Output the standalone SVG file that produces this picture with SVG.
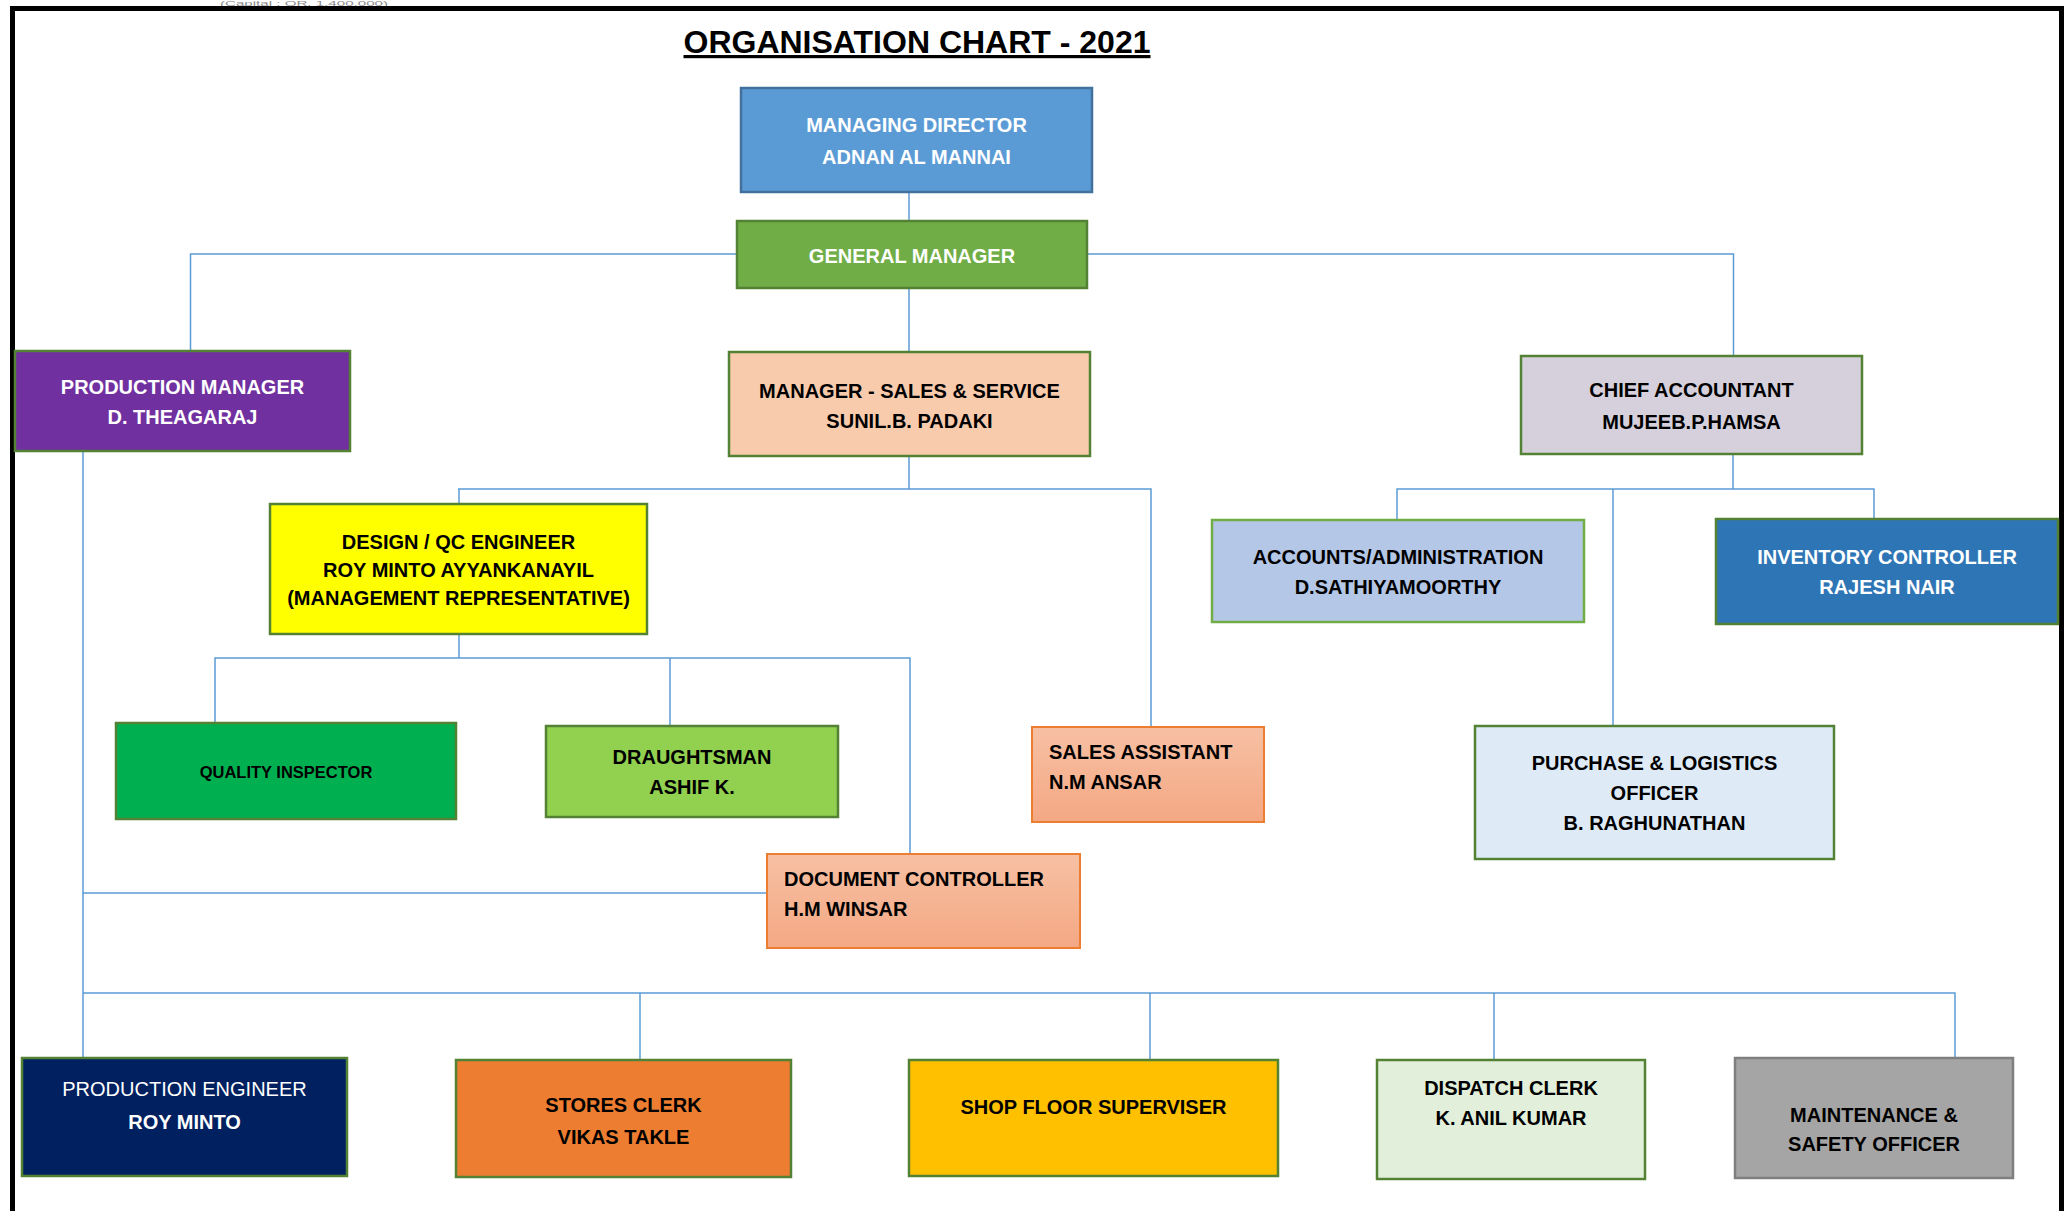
<svg xmlns="http://www.w3.org/2000/svg" width="2068" height="1211" viewBox="0 0 2068 1211">
<style>
  text { font-family: "Liberation Sans", Arial, sans-serif; font-weight: bold; font-size: 20px; }
  .c { text-anchor: middle; }
  .w { fill: #FFFFFF; }
  .k { fill: #000000; }
  .box { stroke: #548235; stroke-width: 2.5; }
  .conn { fill: none; stroke: #5B9BD5; stroke-width: 1.5; }
</style>
<defs>
  <linearGradient id="peach" x1="0" y1="0" x2="0" y2="1">
    <stop offset="0" stop-color="#F7C0A3"/>
    <stop offset="1" stop-color="#F4A884"/>
  </linearGradient>
</defs>
<rect width="2068" height="1211" fill="#FFFFFF"/>
<text x="220" y="5.5" textLength="168" lengthAdjust="spacingAndGlyphs" style="font-size:6.5px;font-weight:normal;fill:#8C8C8C">(Capital : QR. 1,400,000)</text>
<path d="M12.5,1215 V8.5 H2061.5 V1215" fill="none" stroke="#000000" stroke-width="5"/>
<text x="917" y="53" class="c k" style="font-size:32px;text-decoration:underline">ORGANISATION CHART - 2021</text>

<g id="connectors" class="conn">
  <path d="M909,192 V221"/>
  <path d="M737,254 H190.5 V351"/>
  <path d="M1087,254 H1733.5 V356"/>
  <path d="M909,288 V352"/>
  <path d="M909,456 V489"/>
  <path d="M458,489 H1151 V727"/>
  <path d="M459,489 V504"/>
  <path d="M459,634 V658"/>
  <path d="M215,723 V658 H910 V854"/>
  <path d="M670,658 V726"/>
  <path d="M83,451 V1058"/>
  <path d="M83,893 H767"/>
  <path d="M83,993 H1955 V1058"/>
  <path d="M640,993 V1060"/>
  <path d="M1150,993 V1060"/>
  <path d="M1494,993 V1060"/>
  <path d="M1733,454 V489"/>
  <path d="M1397,520 V489 H1874 V519"/>
  <path d="M1613,489 V726"/>
</g>

<g id="managing-director">
  <rect x="741" y="88" width="351" height="104" fill="#5B9BD5" stroke="#41719C" stroke-width="2.5"/>
  <text x="916.5" y="132" class="c w">MANAGING DIRECTOR</text>
  <text x="916.5" y="164" class="c w">ADNAN AL MANNAI</text>
</g>
<g id="general-manager">
  <rect x="737" y="221" width="350" height="67" class="box" fill="#70AD47"/>
  <text x="912" y="263" class="c w">GENERAL MANAGER</text>
</g>
<g id="production-manager">
  <rect x="15" y="351" width="335" height="100" class="box" fill="#7030A0"/>
  <text x="182.5" y="394" class="c w">PRODUCTION MANAGER</text>
  <text x="182.5" y="424" class="c w">D. THEAGARAJ</text>
</g>
<g id="manager-sales-service">
  <rect x="729" y="352" width="361" height="104" class="box" fill="#F8CBAD"/>
  <text x="909.5" y="398" class="c k">MANAGER - SALES &amp; SERVICE</text>
  <text x="909.5" y="428" class="c k">SUNIL.B. PADAKI</text>
</g>
<g id="chief-accountant">
  <rect x="1521" y="356" width="341" height="98" class="box" fill="#D5D0DC"/>
  <text x="1691.5" y="397" class="c k">CHIEF ACCOUNTANT</text>
  <text x="1691.5" y="429" class="c k">MUJEEB.P.HAMSA</text>
</g>
<g id="design-qc-engineer">
  <rect x="270" y="504" width="377" height="130" class="box" fill="#FFFF00"/>
  <text x="458.5" y="549" class="c k">DESIGN / QC ENGINEER</text>
  <text x="458.5" y="577" class="c k">ROY MINTO AYYANKANAYIL</text>
  <text x="458.5" y="605" class="c k">(MANAGEMENT REPRESENTATIVE)</text>
</g>
<g id="accounts-administration">
  <rect x="1212" y="520" width="372" height="102" fill="#B4C7E7" stroke="#70AD47" stroke-width="2.5"/>
  <text x="1398" y="564" class="c k">ACCOUNTS/ADMINISTRATION</text>
  <text x="1398" y="594" class="c k">D.SATHIYAMOORTHY</text>
</g>
<g id="inventory-controller">
  <rect x="1716" y="519" width="342" height="105" class="box" fill="#2E75B6"/>
  <text x="1887" y="564" class="c w">INVENTORY CONTROLLER</text>
  <text x="1887" y="594" class="c w">RAJESH NAIR</text>
</g>
<g id="quality-inspector">
  <rect x="116" y="723" width="340" height="96" class="box" fill="#00B050"/>
  <text x="286" y="778" class="c k" style="font-size:16.5px">QUALITY INSPECTOR</text>
</g>
<g id="draughtsman">
  <rect x="546" y="726" width="292" height="91" class="box" fill="#92D050"/>
  <text x="692" y="764" class="c k">DRAUGHTSMAN</text>
  <text x="692" y="794" class="c k">ASHIF K.</text>
</g>
<g id="sales-assistant">
  <rect x="1032" y="727" width="232" height="95" fill="url(#peach)" stroke="#ED7D31" stroke-width="2"/>
  <text x="1049" y="759" class="k">SALES ASSISTANT</text>
  <text x="1049" y="789" class="k">N.M ANSAR</text>
</g>
<g id="purchase-logistics">
  <rect x="1475" y="726" width="359" height="133" class="box" fill="#DEEBF7"/>
  <text x="1654.5" y="770" class="c k">PURCHASE &amp; LOGISTICS</text>
  <text x="1654.5" y="800" class="c k">OFFICER</text>
  <text x="1654.5" y="830" class="c k">B. RAGHUNATHAN</text>
</g>
<g id="document-controller">
  <rect x="767" y="854" width="313" height="94" fill="url(#peach)" stroke="#ED7D31" stroke-width="2"/>
  <text x="784" y="886" class="k">DOCUMENT CONTROLLER</text>
  <text x="784" y="916" class="k">H.M WINSAR</text>
</g>
<g id="production-engineer">
  <rect x="22" y="1058" width="325" height="118" class="box" fill="#002060"/>
  <text x="184.5" y="1096" class="c w" style="font-weight:normal">PRODUCTION ENGINEER</text>
  <text x="184.5" y="1129" class="c w">ROY MINTO</text>
</g>
<g id="stores-clerk">
  <rect x="456" y="1060" width="335" height="117" class="box" fill="#ED7D31"/>
  <text x="623.5" y="1112" class="c k">STORES CLERK</text>
  <text x="623.5" y="1144" class="c k">VIKAS TAKLE</text>
</g>
<g id="shop-floor-superviser">
  <rect x="909" y="1060" width="369" height="116" class="box" fill="#FFC000"/>
  <text x="1093.5" y="1114" class="c k">SHOP FLOOR SUPERVISER</text>
</g>
<g id="dispatch-clerk">
  <rect x="1377" y="1060" width="268" height="119" class="box" fill="#E2EFDA"/>
  <text x="1511" y="1095" class="c k">DISPATCH CLERK</text>
  <text x="1511" y="1125" class="c k">K. ANIL KUMAR</text>
</g>
<g id="maintenance-safety">
  <rect x="1735" y="1058" width="278" height="120" fill="#A5A5A5" stroke="#7F7F7F" stroke-width="2.5"/>
  <text x="1874" y="1122" class="c k">MAINTENANCE &amp;</text>
  <text x="1874" y="1151" class="c k">SAFETY OFFICER</text>
</g>
</svg>
